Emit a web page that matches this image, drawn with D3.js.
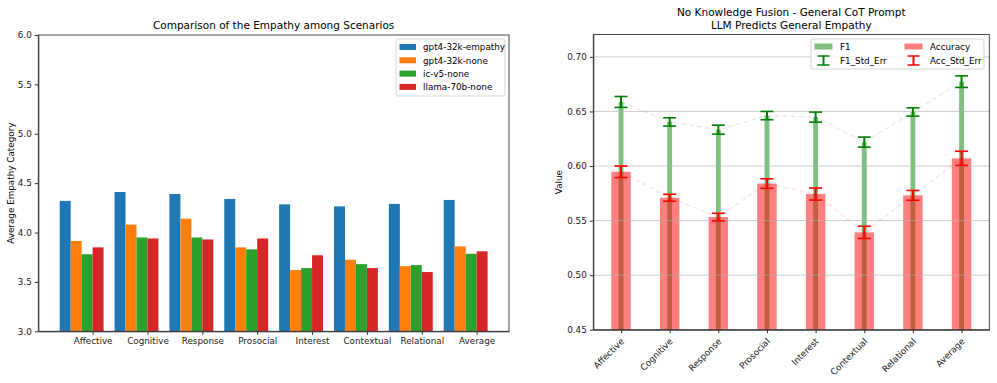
<!DOCTYPE html>
<html>
<head>
<meta charset="utf-8">
<script src="https://cdn.jsdelivr.net/npm/d3@7"></script>
<style>
    body { margin: 0; background: #fff; }
    svg { font-family: "DejaVu Sans", sans-serif; }
</style>
</head>
<body>
<div id="chart"></div>
<script>
// shared categories
var categories = ["Affective", "Cognitive", "Response", "Prosocial", "Interest", "Contextual", "Relational", "Average"];

// left chart: average empathy category per model
var seriesNames = ["gpt4-32k-empathy", "gpt4-32k-none", "ic-v5-none", "llama-70b-none"];
var gpt4Empathy = [4.32, 4.41, 4.39, 4.34, 4.285, 4.265, 4.29, 4.33];
var gpt4None = [3.915, 4.08, 4.14, 3.85, 3.62, 3.725, 3.66, 3.86];
var icV5None = [3.78, 3.95, 3.95, 3.83, 3.64, 3.68, 3.67, 3.785];
var llamaNone = [3.85, 3.94, 3.93, 3.94, 3.77, 3.64, 3.60, 3.81];
var leftTicks = [3.0, 3.5, 4.0, 4.5, 5.0, 5.5, 6.0];

// right chart: F1 / accuracy with standard errors
var f1 = [0.6587, 0.6404, 0.6333, 0.6462, 0.6448, 0.6219, 0.6495, 0.6773];
var f1Err = [0.0050, 0.0038, 0.0041, 0.0038, 0.0046, 0.0046, 0.0038, 0.0053];
var accuracy = [0.5947, 0.5709, 0.5532, 0.5839, 0.5743, 0.5392, 0.5731, 0.6070];
var accErr = [0.0053, 0.0032, 0.0035, 0.0044, 0.0055, 0.0056, 0.0045, 0.0065];
var rightTicks = [0.45, 0.50, 0.55, 0.60, 0.65, 0.70];

function init() {
    var W = 997, H = 383;
    var colors = ["#1f77b4", "#ff7f0e", "#2ca02c", "#d62728"];
    var tickFont = "8.8px", titleFont = "10.5px";

    var svg = d3.select("#chart")
        .append("svg")
        .attr("width", W)
        .attr("height", H);

    // ---------------- left chart ----------------
    var L = { left: 38.3, right: 509, top: 35, bottom: 331.3 };
    var barW = 0.2;
    var xL = d3.scaleLinear().domain([-0.49, 8.09]).range([L.left, L.right]);
    var yL = d3.scaleLinear().domain([3, 6]).range([L.bottom, L.top]);
    var allSeries = [gpt4Empathy, gpt4None, icV5None, llamaNone];
    var unit = xL(1) - xL(0);

    var gL = svg.append("g");

    allSeries.forEach(function (vals, s) {
        gL.selectAll(".bar" + s)
            .data(vals)
            .enter()
            .append("rect")
            .attr("x", function (d, i) { return xL(i + s * barW - barW / 2); })
            .attr("y", function (d) { return yL(d); })
            .attr("width", unit * barW)
            .attr("height", function (d) { return yL(3) - yL(d); })
            .attr("fill", colors[s]);
    });

    gL.append("g")
        .attr("transform", "translate(0," + L.bottom + ")")
        .call(d3.axisBottom(xL)
            .tickValues(d3.range(categories.length).map(function (i) { return i + 0.5; }))
            .tickFormat(function (d, i) { return categories[i]; })
            .tickSize(3.5).tickSizeOuter(0))
        .call(styleAxis);

    gL.append("g")
        .attr("transform", "translate(" + L.left + ",0)")
        .call(d3.axisLeft(yL).tickValues(leftTicks).tickFormat(d3.format(".1f"))
            .tickSize(3.5).tickSizeOuter(0))
        .call(styleAxis);

    gL.append("rect")
        .attr("x", L.left).attr("y", L.top)
        .attr("width", L.right - L.left).attr("height", L.bottom - L.top)
        .attr("fill", "none").attr("stroke", "#333").attr("stroke-width", 0.9);

    gL.append("text")
        .attr("x", (L.left + L.right) / 2).attr("y", 29)
        .attr("text-anchor", "middle")
        .style("font-size", titleFont)
        .text("Comparison of the Empathy among Scenarios");

    gL.append("text")
        .attr("transform", "translate(14," + ((L.top + L.bottom) / 2) + ") rotate(-90)")
        .attr("text-anchor", "middle")
        .style("font-size", tickFont)
        .text("Average Empathy Category");

    // legend
    var legL = gL.append("g").attr("transform", "translate(396,39)");
    legL.append("rect")
        .attr("width", 109).attr("height", 57).attr("rx", 2)
        .attr("fill", "#fff").attr("fill-opacity", 0.8)
        .attr("stroke", "#d5d5d5");
    seriesNames.forEach(function (name, s) {
        legL.append("rect")
            .attr("x", 3.5).attr("y", 5 + s * 13.3)
            .attr("width", 16.5).attr("height", 6)
            .attr("fill", colors[s]);
        legL.append("text")
            .attr("x", 27).attr("y", 8.3 + s * 13.3)
            .attr("dy", "0.35em")
            .style("font-size", tickFont)
            .text(name);
    });

    // ---------------- right chart ----------------
    var R = { left: 593.3, right: 989.3, top: 34.5, bottom: 329.7 };
    var xR = d3.scaleLinear().domain([-0.57, 7.57]).range([R.left, R.right]);
    var yR = d3.scaleLinear().domain([0.45, 0.7205]).range([R.bottom, R.top]);
    var unitR = xR(1) - xR(0);
    var gR = svg.append("g");

    // F1 bars (thin), then accuracy bars on top
    gR.selectAll(".f1bar")
        .data(f1)
        .enter()
        .append("rect")
        .attr("x", function (d, i) { return xR(i - 0.05); })
        .attr("y", function (d) { return yR(d); })
        .attr("width", unitR * 0.1)
        .attr("height", function (d) { return R.bottom - yR(d); })
        .attr("fill", "green")
        .attr("fill-opacity", 0.5);

    gR.selectAll(".accbar")
        .data(accuracy)
        .enter()
        .append("rect")
        .attr("x", function (d, i) { return xR(i - 0.2); })
        .attr("y", function (d) { return yR(d); })
        .attr("width", unitR * 0.4)
        .attr("height", function (d) { return R.bottom - yR(d); })
        .attr("fill", "red")
        .attr("fill-opacity", 0.5);

    // grid
    gR.selectAll(".grid")
        .data(rightTicks.slice(1))
        .enter()
        .append("line")
        .attr("x1", R.left).attr("x2", R.right)
        .attr("y1", function (d) { return yR(d); })
        .attr("y2", function (d) { return yR(d); })
        .attr("stroke", "#b0b0b0").attr("stroke-opacity", 0.7).attr("stroke-width", 0.9);

    // dashed connecting lines
    var line = d3.line()
        .x(function (d, i) { return xR(i); })
        .y(function (d) { return yR(d); });
    gR.append("path").datum(f1)
        .attr("d", line).attr("fill", "none")
        .attr("stroke", "green").attr("stroke-opacity", 0.12)
        .attr("stroke-width", 1.3).attr("stroke-dasharray", "5,3");
    gR.append("path").datum(accuracy)
        .attr("d", line).attr("fill", "none")
        .attr("stroke", "red").attr("stroke-opacity", 0.12)
        .attr("stroke-width", 1.3).attr("stroke-dasharray", "5,3");

    // error bars
    function errorBars(vals, errs, color) {
        var g = gR.append("g").attr("stroke", color).attr("stroke-width", 2);
        vals.forEach(function (v, i) {
            var cx = xR(i);
            g.append("line")
                .attr("x1", cx).attr("x2", cx)
                .attr("y1", yR(v - errs[i])).attr("y2", yR(v + errs[i]));
            [v - errs[i], v + errs[i]].forEach(function (e) {
                g.append("line")
                    .attr("x1", cx - 6.5).attr("x2", cx + 6.5)
                    .attr("y1", yR(e)).attr("y2", yR(e))
                    .attr("stroke-width", 1.6);
            });
        });
    }
    errorBars(f1, f1Err, "green");
    errorBars(accuracy, accErr, "red");

    // axes
    var xAxisR = gR.append("g")
        .attr("transform", "translate(0," + R.bottom + ")")
        .call(d3.axisBottom(xR)
            .tickValues(d3.range(categories.length))
            .tickFormat(function (d, i) { return categories[i]; })
            .tickSize(3.5).tickSizeOuter(0))
        .call(styleAxis);
    xAxisR.selectAll("text")
        .attr("text-anchor", "end")
        .attr("x", 0).attr("y", 0).attr("dy", "0.35em")
        .attr("transform", "translate(1,10) rotate(-45)");

    gR.append("g")
        .attr("transform", "translate(" + R.left + ",0)")
        .call(d3.axisLeft(yR).tickValues(rightTicks).tickFormat(d3.format(".2f"))
            .tickSize(3.5).tickSizeOuter(0))
        .call(styleAxis);

    gR.append("rect")
        .attr("x", R.left).attr("y", R.top)
        .attr("width", R.right - R.left).attr("height", R.bottom - R.top)
        .attr("fill", "none").attr("stroke", "#333").attr("stroke-width", 0.9);

    gR.append("text")
        .attr("x", (R.left + R.right) / 2).attr("y", 16)
        .attr("text-anchor", "middle")
        .style("font-size", titleFont)
        .text("No Knowledge Fusion - General CoT Prompt");
    gR.append("text")
        .attr("x", (R.left + R.right) / 2).attr("y", 29)
        .attr("text-anchor", "middle")
        .style("font-size", titleFont)
        .text("LLM Predicts General Empathy");

    gR.append("text")
        .attr("transform", "translate(562," + ((R.top + R.bottom) / 2) + ") rotate(-90)")
        .attr("text-anchor", "middle")
        .style("font-size", tickFont)
        .text("Value");

    // legend
    var legR = gR.append("g").attr("transform", "translate(811,39)");
    legR.append("rect")
        .attr("width", 173).attr("height", 30).attr("rx", 2)
        .attr("fill", "#fff").attr("fill-opacity", 0.8)
        .attr("stroke", "#d5d5d5");
    var legItems = [
        { name: "F1", kind: "patch", color: "green", col: 0, row: 0 },
        { name: "Accuracy", kind: "patch", color: "red", col: 1, row: 0 },
        { name: "F1_Std_Err", kind: "err", color: "green", col: 0, row: 1 },
        { name: "Acc_Std_Err", kind: "err", color: "red", col: 1, row: 1 }
    ];
    legItems.forEach(function (it) {
        var x0 = 3.5 + it.col * 90, yc = 7.5 + it.row * 14;
        if (it.kind === "patch") {
            legR.append("rect")
                .attr("x", x0).attr("y", yc - 3)
                .attr("width", 18).attr("height", 6)
                .attr("fill", it.color).attr("fill-opacity", 0.5);
        } else {
            var g = legR.append("g").attr("stroke", it.color).attr("stroke-width", 2);
            g.append("line").attr("x1", x0 + 9).attr("x2", x0 + 9).attr("y1", yc - 4.5).attr("y2", yc + 4.5);
            g.append("line").attr("x1", x0 + 3).attr("x2", x0 + 15).attr("y1", yc - 4.5).attr("y2", yc - 4.5).attr("stroke-width", 1.5);
            g.append("line").attr("x1", x0 + 3).attr("x2", x0 + 15).attr("y1", yc + 4.5).attr("y2", yc + 4.5).attr("stroke-width", 1.5);
        }
        legR.append("text")
            .attr("x", x0 + 25.5).attr("y", yc)
            .attr("dy", "0.35em")
            .style("font-size", tickFont)
            .text(it.name);
    });

    function styleAxis(sel) {
        sel.select(".domain").attr("stroke", "#333");
        sel.selectAll(".tick line").attr("stroke", "#333");
        sel.selectAll(".tick text")
            .attr("fill", "#222")
            .style("font-size", tickFont)
            .style("font-family", "DejaVu Sans, sans-serif");
    }
}

window.onload = init;
</script>
</body>
</html>
